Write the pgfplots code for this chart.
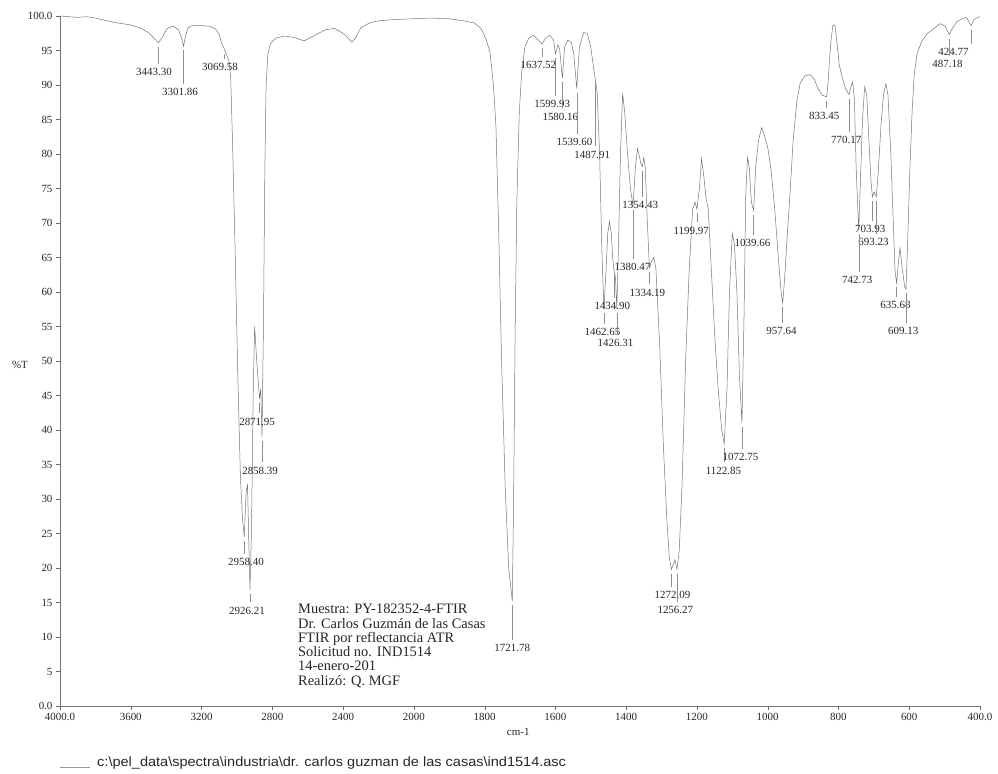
\documentclass[border=0pt]{standalone}
\usepackage{pgfplots}
\pgfplotsset{compat=1.18}
\usepackage{pgfplotstable}
\usepackage{fontspec}
\setmainfont{Liberation Serif}
\newfontfamily\pathfont{Liberation Sans}

% FTIR spectrum, wavenumber (cm-1) vs %T
\pgfplotstableread{
w T
4000 100.0
3950 99.9
3900 99.8
3850 99.9
3800 99.7
3750 99.4
3700 99.1
3650 98.9
3600 98.7
3550 98.3
3500 97.6
3470 96.8
3443.30 96.1
3420 97.0
3395 98.2
3360 98.5
3330 98.0
3315 97.0
3301.86 95.6
3290 97.2
3275 98.3
3250 98.6
3200 98.6
3150 98.5
3120 98.1
3100 97.3
3085 96.0
3069.58 95.1
3055 94.2
3045 93.5
3035 91
3025 82
3010 66
2995 48
2980 33
2968 27
2958.40 24.5
2948 31
2940 32
2933 24
2926.21 16.8
2918 25
2908 45
2900 55
2888 50
2871.95 44.5
2865 46
2858.39 39
2850 55
2842 78
2835 90
2825 94.5
2810 96
2780 96.8
2730 97.1
2680 96.9
2620 96.4
2560 97.2
2500 98.0
2450 98.2
2420 97.8
2390 97.3
2365 96.6
2350 96.2
2330 96.8
2300 98.3
2250 99.0
2200 99.3
2100 99.5
2000 99.6
1950 99.7
1900 99.6
1860 99.3
1830 99.0
1810 98.2
1795 96.5
1785 94.8
1775 90
1768 84
1760 68.5
1752 50
1742 32
1732 20
1721.78 15.2
1718 30
1714 53
1709 73
1702 86
1695 92
1686 95.5
1675 96.8
1662 97.2
1650 96.6
1637.52 95.9
1628 96.8
1615 97.2
1605 96.5
1599.93 94.5
1593 95.8
1588 95.2
1580.16 91.0
1574 95.5
1565 96.5
1555 96.2
1548 94.5
1539.60 89.5
1532 95.5
1520 97.6
1510 97.5
1500 95.5
1492 92.5
1487.91 91.0
1482 89
1475 80
1468 65
1462.65 57.5
1457 63
1452 68.5
1447 70.2
1442 68.5
1438 65
1434.90 63.3
1430 62
1426.31 57.5
1422 66
1416 80
1410 88.8
1404 86
1396 80
1388 75
1380.47 72.5
1374 78
1368 80.8
1362 79.5
1358 78.5
1354.43 78.2
1350 79.5
1346 78
1340 70
1334.19 63.5
1328 64.5
1322 65
1316 63.5
1305 52
1295 38
1285 27
1278 21.5
1272.09 19.8
1265 20.8
1262 21.2
1256.27 19.8
1250 22.5
1242 32
1232 50
1222 63
1212 72
1205 73
1199.97 72
1193 75
1187 79.3
1181 77
1174 73.5
1168 72
1160 64
1150 54
1140 46
1130 40
1122.85 38
1115 46
1108 60
1100 68.5
1094 67
1087 60
1080 48
1072.75 41
1067 56
1062 74
1057 79.5
1052 78
1046 73
1039.66 71.8
1034 78
1026 82
1017 83.8
1008 82.5
1000 81
990 77.5
980 72
970 65
962 60
957.64 58.4
952 62
945 68
938 73.3
928 82
918 87.5
908 90.3
895 91.3
880 91.5
868 90.8
858 89.5
845 88.5
833.45 88.3
830 90
822 96
816 98.6
810 98.7
804 96
798 93
790 91.2
780 89.5
770.17 88.6
766 89.5
760 90.4
755 88
750 78
742.73 69
738 76
732 85
726 89.7
720 88.5
714 82
708 76
703.93 73.8
699 74.5
693.23 73.8
688 77
680 84
673 88.5
666 90.2
660 88.5
652 80
645 70
640 63
635.68 61.3
631 64
626 66.4
620 63.5
613 60.8
609.13 60.4
604 68
598 78
592 86
586 91.5
578 94.5
565 96.3
550 97.4
530 98.2
512 98.9
498 98.5
487.18 97.3
478 98.2
465 99.2
450 99.6
438 99.8
430 99.0
424.77 98.6
418 99.4
410 99.7
400 99.9
}\spec

\newcommand{\pklab}{\fontsize{11}{12}\selectfont}
% peak: x of peak, T of peak, x of label, T of label, text
\newcommand{\pk}[5]{%
  \draw[black!45, line width=0.4pt] (axis cs:#1,#2-0.6) -- (axis cs:#1,#4+1.2);
  \node[font=\pklab, text=black!85, inner sep=0pt] at (axis cs:#3,#4) {#5};}

\begin{document}
\begin{tikzpicture}
\useasboundingbox (-60bp,-68bp) rectangle (938bp,706bp);
\begin{axis}[
  scale only axis,
  width=920bp, height=690bp,
  x coord trafo/.code={\pgfmathparse{ifthenelse(#1>2000,2000+0.5*(#1-2000),#1)}},
  x dir=reverse,
  xmin=400, xmax=4000,
  ymin=0, ymax=100,
  axis lines=left,
  axis line style={-, black!55},
  tick style={black!60},
  tick align=outside,
  major tick length=4bp,
  xtick={400,600,800,1000,1200,1400,1600,1800,2000,2400,2800,3200,3600,4000},
  xticklabels={400.0,600,800,1000,1200,1400,1600,1800,2000,2400,2800,3200,3600,4000.0},
  ytick={0,5,...,100},
  yticklabels={0.0,5,10,15,20,25,30,35,40,45,50,55,60,65,70,75,80,85,90,95,100.0},
  ticklabel style={font=\fontsize{11}{12}\selectfont, text=black!85},
  /pgf/number format/assume math mode=true,
  clip=false,
]
\addplot[black!55, line width=0.5pt] table[x=w, y=T] {\spec};

\pk{3443.30}{96.1}{3469}{91.9}{3443.30}
\pk{3301.86}{95.6}{3322}{89.0}{3301.86}
\pk{3069.58}{95.1}{3096}{92.6}{3069.58}
\pk{2871.95}{44.5}{2886}{41.2}{2871.95}
\pk{2858.39}{39.0}{2869}{34.1}{2858.39}
\pk{2958.40}{24.5}{2949}{20.9}{2958.40}
\pk{2926.21}{16.8}{2943}{13.8}{2926.21}
\pk{1637.52}{95.9}{1648}{92.9}{1637.52}
\pk{1599.93}{94.5}{1609}{87.2}{1599.93}
\pk{1580.16}{91.0}{1586}{85.4}{1580.16}
\pk{1539.60}{89.5}{1546}{81.7}{1539.60}
\pk{1487.91}{91.0}{1496}{79.9}{1487.91}
\pk{1354.43}{78.2}{1360}{72.6}{1354.43}
\pk{1199.97}{72.0}{1216}{68.9}{1199.97}
\pk{1380.47}{72.5}{1382}{63.6}{1380.47}
\pk{1334.19}{63.5}{1340}{59.9}{1334.19}
\pk{1434.90}{63.3}{1439}{58.0}{1434.90}
\pk{1462.65}{57.5}{1467}{54.2}{1462.65}
\pk{1426.31}{57.5}{1430}{52.6}{1426.31}
\pk{1122.85}{38.0}{1125}{34.1}{1122.85}
\pk{1072.75}{41.0}{1077}{36.1}{1072.75}
\pk{1272.09}{19.8}{1269}{16.1}{1272.09}
\pk{1256.27}{19.8}{1261}{13.9}{1256.27}
\pk{1721.78}{15.2}{1722}{8.4}{1721.78}
\pk{1039.66}{71.8}{1043}{67.1}{1039.66}
\pk{957.64}{58.4}{961}{54.3}{957.64}
\pk{833.45}{88.3}{840}{85.5}{833.45}
\pk{770.17}{88.6}{778}{82.0}{770.17}
\pk{703.93}{73.8}{710}{69.1}{703.93}
\pk{693.23}{73.8}{701}{67.2}{693.23}
\pk{742.73}{69.0}{747}{61.7}{742.73}
\pk{635.68}{61.3}{639}{58.1}{635.68}
\pk{609.13}{60.4}{617}{54.3}{609.13}
\pk{424.77}{98.6}{475}{94.8}{424.77}
\pk{487.18}{97.3}{492}{93.0}{487.18}

\node[text=black!85, font=\fontsize{11}{12}\selectfont] at (rel axis cs:0,0.494) [xshift=-40bp] {\%T};
\node[text=black!85, font=\fontsize{11}{12}\selectfont] at (axis cs:1705,0) [yshift=-26bp] {cm-1};
\node[anchor=north west, align=left, inner sep=0pt, text=black!85,
      font=\fontsize{14.5}{14.3}\selectfont] at (rel axis cs:0.2587,0.1478)
  {Muestra: PY-182352-4-FTIR\\Dr. Carlos Guzmán de las Casas\\FTIR por reflectancia ATR\\Solicitud no. IND1514\\14-enero-201\\Realizó: Q. MGF};
\end{axis}
\draw[black!40, line width=0.5pt] (0bp,-61bp) -- (30bp,-61bp);
\node[anchor=west, inner sep=0pt, text=black!85, xscale=1.08, font=\pathfont\fontsize{13.5}{15}\selectfont] at (37bp,-57bp)
  {c:\textbackslash pel\_data\textbackslash spectra\textbackslash industria\textbackslash dr. carlos guzman de las casas\textbackslash ind1514.asc};
\end{tikzpicture}
\end{document}
